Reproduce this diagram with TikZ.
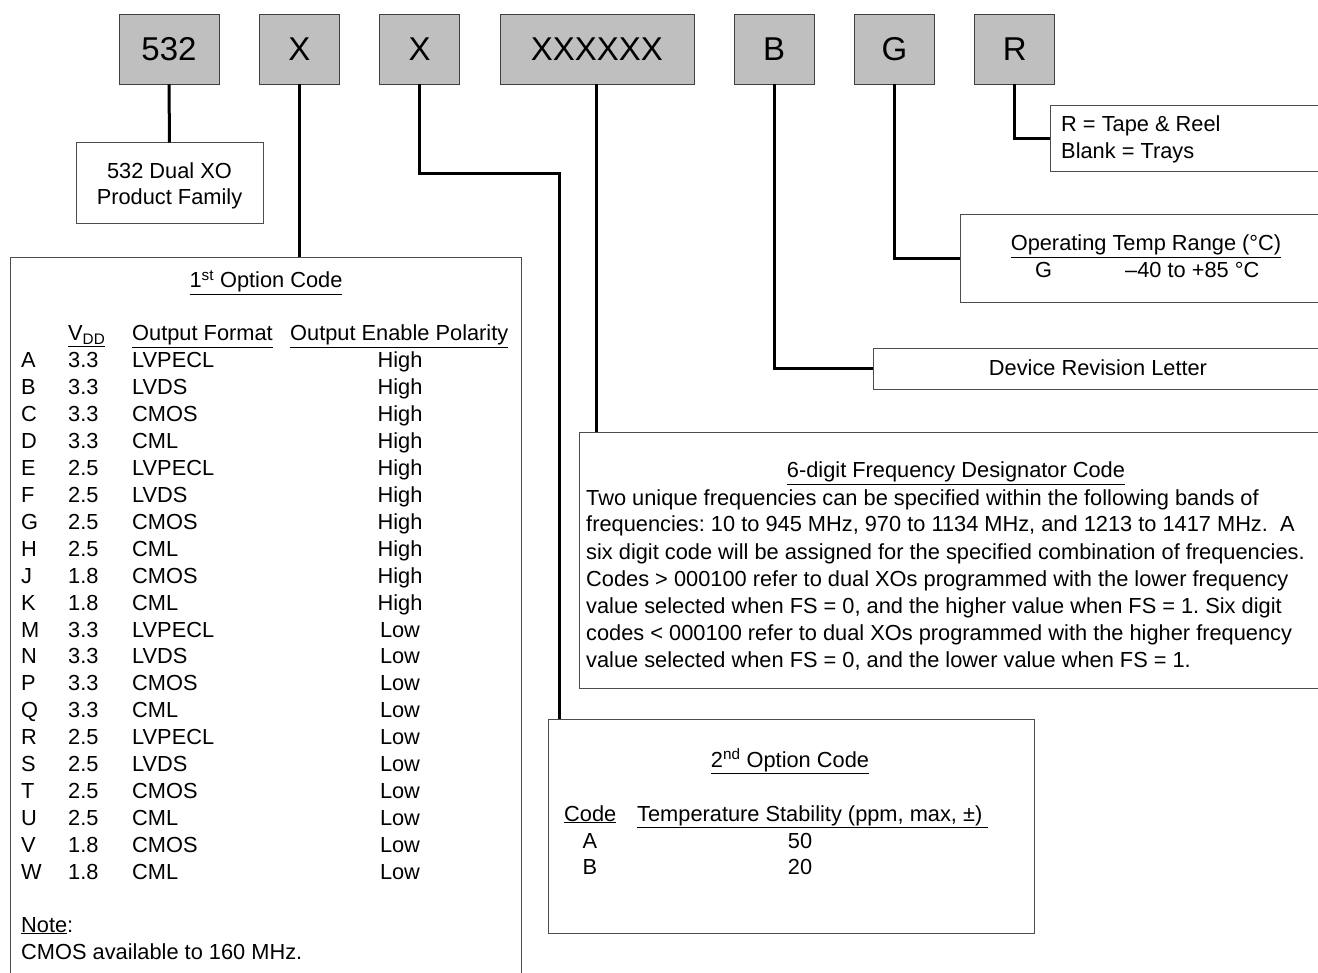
\documentclass[tikz,border=0pt]{standalone}
\usepackage{fontspec}
\setmainfont{Liberation Sans}
\usetikzlibrary{positioning}
\frenchspacing

\begin{document}
\begin{tikzpicture}[x=1pt,y=-1pt,node distance=39.5pt,
  txt/.style={font=\fontsize{21.8}{27}\selectfont,inner sep=0pt},
  code box/.style={draw=black!75,fill=black!25,line width=0.8pt,minimum width=80pt,
    minimum height=70pt,inner sep=0pt,font=\fontsize{33}{38}\selectfont},
  info box/.style={draw=black!70,fill=white,line width=1pt,inner sep=0pt},
  link/.style={line width=3pt}]
  \fill[white] (0,0) rectangle (1318,973);
  \clip (0,0) rectangle (1318,973);

  % part number fields
  \node[code box,minimum width=100pt] (fam) at (169,49) {532};
  \node[code box] (opt1) [right=of fam] {X};
  \node[code box] (opt2) [right=of opt1] {X};
  \node[code box,minimum width=194pt] (freq) [right=of opt2] {XXXXXX};
  \node[code box] (rev) [right=of freq] {B};
  \node[code box] (temp) [right=of rev] {G};
  \node[code box] (pack) [right=of temp] {R};

  % description boxes
  \node[info box,minimum width=187pt,minimum height=81pt] (famdesc) at (169.5,183.5) {};
  \node[txt,anchor=base] (famtxt1) at (169.5,179) {532 Dual XO};
  \node[txt,anchor=base] (famtxt2) at (169.5,205) {Product Family};

  \node[info box,anchor=north west,minimum width=300pt,minimum height=66pt] (packdesc) at (1050,105) {};
  \node[txt,anchor=base west] (packtxt1) at (1061,132) {R = Tape \& Reel};
  \node[txt,anchor=base west] (packtxt2) at (1061,159) {Blank = Trays};

  \node[info box,anchor=north west,minimum width=400pt,minimum height=88pt] (tempdesc) at (960,214) {};
  \node[txt,anchor=base] (temptitle) at (1146,251) {\underline{Operating Temp Range (°C)}};
  \node[txt,anchor=base west] (tempcode) at (1035,278) {G};
  \node[txt,anchor=base west] (temprange) at (1125,278) {–40 to +85 °C};

  \node[info box,anchor=north west,minimum width=480pt,minimum height=41pt] (revdesc) at (873,348) {};
  \node[txt,anchor=base] (revtxt) at (1098,376) {Device Revision Letter};

  \node[info box,anchor=north west,minimum width=760pt,minimum height=256pt] (freqdesc) at (579,432) {};
  \node[txt,anchor=base] (freqtitle) at (956,478) {\underline{6-digit Frequency Designator Code}};
  \foreach \ln [count=\i from 0] in {
    {Two unique frequencies can be specified within the following bands of},
    {frequencies: 10 to 945 MHz, 970 to 1134 MHz, and 1213 to 1417 MHz.\ \ A},
    {six digit code will be assigned for the specified combination of frequencies.},
    {Codes > 000100 refer to dual XOs programmed with the lower frequency},
    {value selected when FS = 0, and the higher value when FS = 1. Six digit},
    {codes < 000100 refer to dual XOs programmed with the higher frequency},
    {value selected when FS = 0, and the lower value when FS = 1.}}
    \node[txt,anchor=base west] (freqln\i) at (586,505+27*\i) {\ln};

  \node[info box,anchor=north west,minimum width=486pt,minimum height=214pt] (opt2desc) at (548,719) {};
  \node[txt,anchor=base] (opt2title) at (790,767) {\underline{2\textsuperscript{nd} Option Code}};
  \node[txt,anchor=base west] (opt2hd1) at (564,821) {\underline{Code}};
  \node[txt,anchor=base west] (opt2hd2) at (637,821) {\underline{Temperature Stability (ppm, max, ±)\ }};
  \node[txt,anchor=base] (opt2a) at (590,848) {A};
  \node[txt,anchor=base] (opt2av) at (800,848) {50};
  \node[txt,anchor=base] (opt2b) at (590,874) {B};
  \node[txt,anchor=base] (opt2bv) at (800,874) {20};

  \node[info box,anchor=north west,minimum width=511pt,minimum height=760pt] (opt1desc) at (10,257) {};
  \node[txt,anchor=base] (opt1title) at (266,288) {\underline{1\textsuperscript{st} Option Code}};
  \node[txt,anchor=base west] (opt1hd1) at (68,341) {\underline{V\textsubscript{DD}}};
  \node[txt,anchor=base west] (opt1hd2) at (132,341) {\underline{Output Format}};
  \node[txt,anchor=base west] (opt1hd3) at (290,341) {\underline{Output Enable Polarity}};
  \foreach \cd/\vdd/\fmt/\pol [count=\i from 0] in {A/3.3/LVPECL/High,B/3.3/LVDS/High,
      C/3.3/CMOS/High,D/3.3/CML/High,E/2.5/LVPECL/High,F/2.5/LVDS/High,G/2.5/CMOS/High,
      H/2.5/CML/High,J/1.8/CMOS/High,K/1.8/CML/High,M/3.3/LVPECL/Low,N/3.3/LVDS/Low,
      P/3.3/CMOS/Low,Q/3.3/CML/Low,R/2.5/LVPECL/Low,S/2.5/LVDS/Low,T/2.5/CMOS/Low,
      U/2.5/CML/Low,V/1.8/CMOS/Low,W/1.8/CML/Low}{
    \node[txt,anchor=base west] (cd\i) at (21,368+26.9*\i) {\cd};
    \node[txt,anchor=base west] (vdd\i) at (68,368+26.9*\i) {\vdd};
    \node[txt,anchor=base west] (fmt\i) at (132,368+26.9*\i) {\fmt};
    \node[txt,anchor=base] (pol\i) at (400,368+26.9*\i) {\pol};
  }
  \node[txt,anchor=base west] (note) at (21,932) {\underline{Note}:};
  \node[txt,anchor=base west] (notetxt) at (21,959) {CMOS available to 160 MHz.};

  % connectors
  \coordinate (bend2) at (559,174);
  \draw[link] (fam.south) -- (famdesc.north);
  \draw[link] (opt1.south) -- (opt1.south |- opt1desc.north);
  \draw[link] (opt2.south) |- (bend2) -- (bend2 |- opt2desc.north);
  \draw[link] (freq.south) -- (freq.south |- freqdesc.north);
  \draw[link] (rev.south) |- (revdesc.west);
  \draw[link] (temp.south) |- (tempdesc.west);
  \draw[link] (pack.south) |- (packdesc.west);
\end{tikzpicture}
\end{document}
